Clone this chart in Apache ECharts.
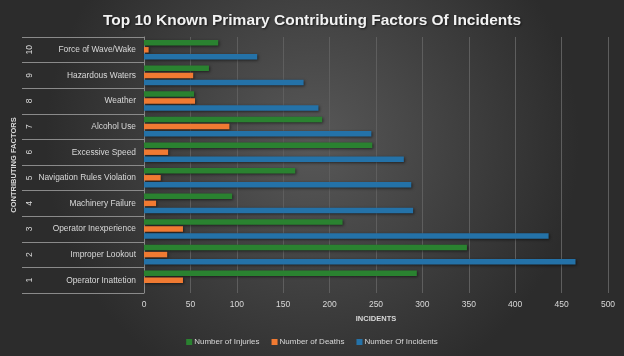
<!DOCTYPE html>
<html><head><meta charset="utf-8">
<script src="https://cdn.jsdelivr.net/npm/echarts@6/dist/echarts.min.js"></script>
<style>html,body{margin:0;padding:0;background:#333}#c{width:624px;height:356px}</style>
</head><body><div id="c"></div>
<script>
const factorNumbers = ['1','2','3','4','5','6','7','8','9','10'];
const factorNames = ['Operator Inattetion','Improper Lookout','Operator Inexperience','Machinery Failure','Navigation Rules Violation','Excessive Speed','Alcohol Use','Weather','Hazardous Waters','Force of Wave/Wake'];
const injuries = [294, 348, 214, 95, 163, 246, 192, 54, 70, 80];
const deaths = [42, 25, 42, 13, 18, 26, 92, 55, 53, 5];
const incidents = [null, 465, 436, 290, 288, 280, 245, 188, 172, 122];
const xTicks = {min: 0, max: 500, interval: 50};

const FONT = '"Liberation Sans",Arial,sans-serif';
const TXT = '#d9d9d9';
const chart = echarts.init(document.getElementById('c'), null, {renderer: 'canvas'});
const shadow = {shadowColor: 'rgba(0,0,0,0.55)', shadowBlur: 3, shadowOffsetX: 1, shadowOffsetY: 1};
chart.setOption({
  animation: false,
  backgroundColor: {type: 'radial', x: 0.5, y: 0.4, r: 0.75,
    colorStops: [{offset: 0, color: '#585858'}, {offset: 1, color: '#2c2c2c'}]},
  title: {text: 'Top 10 Known Primary Contributing Factors Of Incidents', left: 'center', top: 8,
    textStyle: {color: '#f2f2f2', fontSize: 15.5, fontWeight: 'bold', fontFamily: FONT,
      textShadowColor: 'rgba(0,0,0,0.6)', textShadowBlur: 2, textShadowOffsetX: 1, textShadowOffsetY: 1}},
  legend: {bottom: 5, left: 'center', itemWidth: 6, itemHeight: 6, itemGap: 12,
    data: ['Number of Injuries', 'Number of Deaths', 'Number Of Incidents'],
    textStyle: {color: TXT, fontSize: 8, fontFamily: FONT, padding: [0, 0, 0, -3]}, icon: 'rect'},
  grid: {left: 144, right: 16, top: 37, bottom: 63, outerBoundsMode: 'none'},
  xAxis: {type: 'value', min: xTicks.min, max: xTicks.max, interval: xTicks.interval,
    name: 'INCIDENTS', nameLocation: 'middle', nameGap: 22,
    nameTextStyle: {color: TXT, fontSize: 7.5, fontWeight: 'bold', fontFamily: FONT},
    axisLabel: {color: TXT, fontSize: 8.5, fontFamily: FONT, margin: 7},
    axisLine: {show: false}, axisTick: {show: false},
    splitLine: {lineStyle: {color: '#5e5e5e', width: 1}}},
  yAxis: [
    {type: 'category', data: factorNames, position: 'left',
     axisLine: {show: true, lineStyle: {color: '#8a8a8a', width: 1}},
     axisTick: {show: true, length: 122, lineStyle: {color: '#8a8a8a', width: 1}},
     axisLabel: {color: TXT, fontSize: 8.4, fontFamily: FONT, margin: 8}},
    {type: 'category', data: factorNumbers, position: 'left', offset: 114,
     axisLine: {show: false}, axisTick: {show: false},
     axisLabel: {color: TXT, fontSize: 8.5, fontFamily: FONT, rotate: 90, margin: 0, align: 'center', verticalAlign: 'middle'},
     name: 'CONTRIBUTING FACTORS', nameLocation: 'middle', nameRotate: 90, nameGap: 7,
     nameTextStyle: {color: TXT, fontSize: 7.5, fontWeight: 'bold', fontFamily: FONT}}
  ],
  series: [
    {name: 'Number of Injuries', type: 'bar', data: injuries, barWidth: 5.5, barGap: '28%', barCategoryGap: '24%',
     itemStyle: Object.assign({color: '#2a8230'}, shadow)},
    {name: 'Number of Deaths', type: 'bar', data: deaths, barWidth: 5.5, barGap: '28%',
     itemStyle: Object.assign({color: '#f07a32'}, shadow)},
    {name: 'Number Of Incidents', type: 'bar', data: incidents, barWidth: 5.5, barGap: '28%',
     itemStyle: Object.assign({color: '#2472a8'}, shadow)}
  ]
});
</script></body></html>
